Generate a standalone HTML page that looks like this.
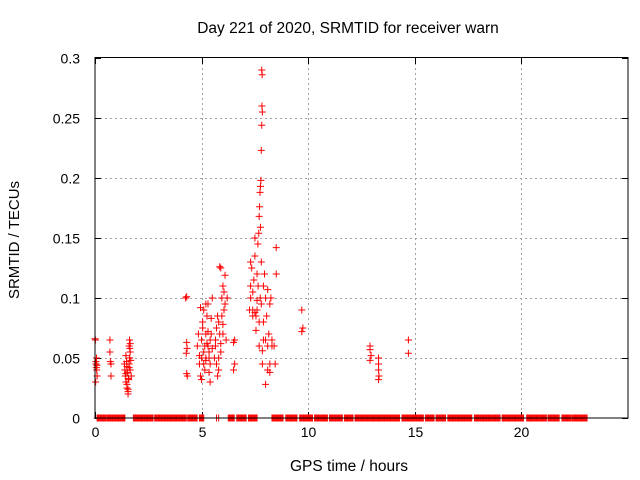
<!DOCTYPE html>
<html><head><meta charset="utf-8"><style>
html,body{margin:0;padding:0;background:#fff;}
svg{display:block;font-family:"Liberation Sans",sans-serif;}
</style></head><body>
<svg id="chart" width="640" height="480">
<text x="348" y="33" font-size="15.5" text-anchor="middle" fill="#000">Day 221 of 2020, SRMTID for receiver warn</text>
<text x="349" y="471" font-size="15.5" text-anchor="middle" fill="#000">GPS time / hours</text>
<text x="0" y="0" font-size="15" text-anchor="middle" fill="#000" transform="translate(19,240) rotate(-90)">SRMTID / TECUs</text>
<g id="grid"></g>
<g id="ticks"></g>
<g id="marks"></g>
<rect x="95" y="57.5" width="533" height="360.5" fill="none" stroke="#000" stroke-width="1"/>
</svg>
<script>
const xTicks=[0,5,10,15,20];
const yTicks=[0,0.05,0.1,0.15,0.2,0.25,0.3];
const yTickLabels=["0","0.05","0.1","0.15","0.2","0.25","0.3"];
const hours=[0,0.02,0.04,0.05,0.06,0.08,0.1,0.03,0.07,0.09,
0.7,0.7,0.72,0.75,0.75,
1.38,1.4,1.42,1.45,1.45,1.48,1.5,1.5,1.52,1.55,1.55,1.57,1.6,1.6,1.62,1.62,1.65,1.65,1.68,1.7,1.5,1.55,1.6,1.45,1.65,1.58,1.63,
4.25,4.3,4.3,4.32,4.28,4.3,4.33,
4.8,4.85,4.9,4.9,4.95,5.0,5.0,5.05,5.1,5.1,5.15,5.2,5.2,5.25,5.3,5.3,5.35,5.4,5.4,5.45,5.5,5.5,5.05,5.15,5.25,5.35,4.95,5.2,5.3,5.4,5.1,5.0,5.2,5.45,5.35,
5.6,5.65,5.7,5.75,5.8,5.85,5.9,5.95,6.0,6.05,6.1,6.15,5.7,5.8,5.9,6.0,6.1,5.75,5.85,5.95,6.05,5.65,6.2,5.9,6.0,5.8,
6.5,6.55,6.5,6.55,
7.25,7.3,7.3,7.35,7.4,7.4,7.45,7.5,7.5,7.55,7.6,7.6,7.65,7.7,7.7,7.75,7.8,7.8,7.85,7.85,7.9,7.9,7.95,8.0,8.0,8.05,8.1,8.1,8.15,8.2,8.2,8.25,8.3,7.82,7.84,7.83,7.85,7.82,7.8,7.78,7.76,7.74,7.72,7.7,7.76,7.68,7.64,7.5,7.55,7.6,7.9,8.0,8.1,8.2,7.4,7.3,
8.5,8.5,8.4,8.45,8.3,
9.7,9.75,9.7,
12.9,12.9,12.95,12.9,
13.3,13.3,13.3,13.32,13.3,
14.7,14.7];
const values=[0.066,0.065,0.047,0.045,0.042,0.04,0.035,0.03,0.05,0.044,
0.065,0.055,0.047,0.045,0.035,
0.045,0.04,0.035,0.052,0.03,0.047,0.043,0.025,0.038,0.02,0.022,0.033,0.045,0.06,0.065,0.05,0.055,0.04,0.048,0.035,0.028,0.024,0.042,0.037,0.062,0.032,0.058,
0.1,0.101,0.063,0.058,0.054,0.037,0.035,
0.06,0.07,0.052,0.045,0.035,0.05,0.065,0.08,0.055,0.09,0.06,0.07,0.05,0.085,0.095,0.06,0.055,0.065,0.045,0.07,0.1,0.058,0.075,0.04,0.062,0.05,0.092,0.048,0.072,0.03,0.045,0.032,0.095,0.083,0.038,
0.05,0.06,0.075,0.085,0.08,0.126,0.125,0.1,0.11,0.09,0.119,0.065,0.045,0.04,0.055,0.07,0.095,0.035,0.07,0.085,0.105,0.065,0.1,0.062,0.078,0.05,
0.063,0.045,0.04,0.065,
0.09,0.13,0.1,0.125,0.085,0.105,0.115,0.088,0.135,0.073,0.098,0.12,0.11,0.08,0.06,0.1,0.13,0.095,0.045,0.056,0.11,0.08,0.12,0.1,0.065,0.085,0.107,0.06,0.07,0.045,0.095,0.1,0.06,0.29,0.286,0.26,0.255,0.244,0.223,0.198,0.193,0.188,0.176,0.168,0.159,0.154,0.145,0.15,0.085,0.09,0.065,0.028,0.04,0.038,0.09,0.11,
0.142,0.12,0.06,0.045,0.065,
0.09,0.075,0.072,
0.06,0.057,0.052,0.048,
0.05,0.045,0.04,0.035,0.032,
0.065,0.054];
const zeroRunStarts=[0.1,0.55,0.8,1.8,2.8,4.35,4.9,5.7,5.8,6.25,6.65,7.2,8.3,8.95,9.6,10.3,11.0,11.7,12.2,14.4,15.5,16.0,16.55,17.8,19.1,20.25,21.25,21.9,22.4];
const zeroRunEnds=[0.5,0.75,1.4,2.75,4.3,4.8,5.1,5.7,5.8,6.55,7.1,7.6,8.85,9.5,10.2,10.9,11.6,12.1,14.3,15.4,15.9,16.45,17.7,19.0,20.1,21.2,21.8,22.35,23.1];

const L=95,R=628,T=58,B=418;
const xs=h=>L+(h/25)*(R-L);
const ys=v=>B-(v/0.3)*(B-T);
const NS="http://www.w3.org/2000/svg";
const grid=document.getElementById('grid'),ticks=document.getElementById('ticks'),marks=document.getElementById('marks');
function line(p,x1,y1,x2,y2,st,dash){const l=document.createElementNS(NS,'line');l.setAttribute('x1',x1);l.setAttribute('y1',y1);l.setAttribute('x2',x2);l.setAttribute('y2',y2);l.setAttribute('stroke',st);l.setAttribute('stroke-width',1);if(dash)l.setAttribute('stroke-dasharray',dash);p.appendChild(l);return l;}
xTicks.forEach((t,i)=>{const x=Math.round(xs(t))+0.5;
 if(t>0){const g=line(grid,x,T,x,B,'#a0a0a0','2,3');
 
 }
 line(ticks,x,B,x,B-6,'#000');line(ticks,x,T,x,T+6,'#000');
 const tx=document.createElementNS(NS,'text');tx.setAttribute('x',x);tx.setAttribute('y',B+19);tx.setAttribute('font-size','14');tx.setAttribute('text-anchor','middle');tx.textContent=t;
 
 
 ticks.appendChild(tx);});
yTicks.forEach((t,i)=>{const y=Math.round(ys(t))+0.5;
 if(t>0&&t<0.3){const g=line(grid,L,y,R,y,'#a0a0a0','2,3');
 
 }
 line(ticks,L,y,L+6,y,'#000');line(ticks,R,y,R-6,y,'#000');
 const tx=document.createElementNS(NS,'text');tx.setAttribute('x',80);tx.setAttribute('y',y+5);tx.setAttribute('font-size','14');tx.setAttribute('text-anchor','end');tx.textContent=yTickLabels[i];
 
 
 ticks.appendChild(tx);});
function cross(h,v){const x=xs(h),y=ys(v);const p=document.createElementNS(NS,'path');
 p.setAttribute('d',`M${x-3.5},${y}H${x+3.5}M${x},${y-3.5}V${y+3.5}`);p.setAttribute('stroke','#ff0000');p.setAttribute('stroke-width','1');
 
 
 marks.appendChild(p);}
zeroRunStarts.forEach((s,i)=>{const e=zeroRunEnds[i];for(let h=s;h<=e+1e-9;h+=0.04)cross(h,0);});
hours.forEach((h,i)=>cross(h,values[i]));
</script>
</body></html>
